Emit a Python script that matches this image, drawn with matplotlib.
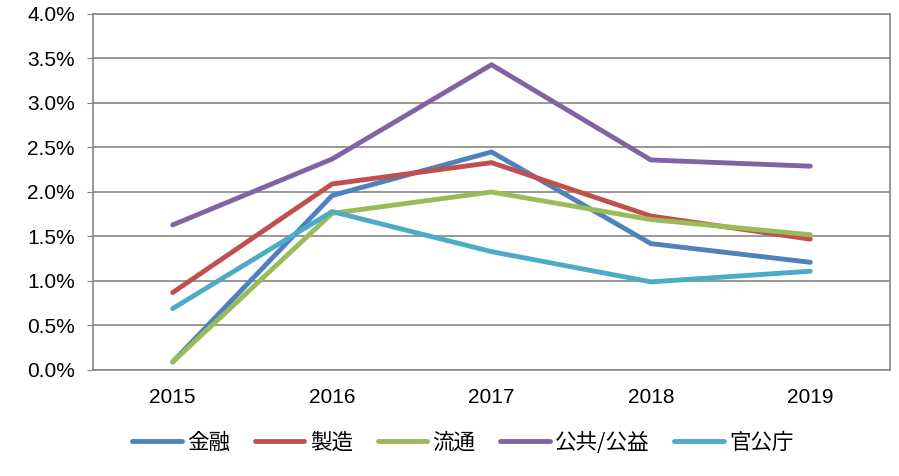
import matplotlib.pyplot as plt
from matplotlib.ticker import FuncFormatter

plt.rcParams['font.family'] = ['Liberation Sans', 'Noto Sans CJK JP', 'DejaVu Sans']

years = ['2015', '2016', '2017', '2018', '2019']
kinyu = [0.09, 1.96, 2.45, 1.42, 1.21]
seizo = [0.87, 2.09, 2.33, 1.73, 1.47]
ryutsu = [0.09, 1.76, 2.00, 1.69, 1.52]
kokyo = [1.63, 2.37, 3.43, 2.36, 2.29]
kancho = [0.69, 1.78, 1.33, 0.99, 1.11]

series = [
    ('金融', kinyu, '#4F81BD'),
    ('製造', seizo, '#C0504D'),
    ('流通', ryutsu, '#9BBB59'),
    ('公共/公益', kokyo, '#8064A2'),
    ('官公庁', kancho, '#4BACC6'),
]

fig = plt.figure(figsize=(8.99, 4.76), dpi=100)
ax = fig.add_axes([0.1034, 0.2227, 0.8866, 0.7479])

x = range(len(years))
for name, vals, color in series:
    ax.plot(x, vals, color=color, lw=3.5, label=name, solid_capstyle='round',
            solid_joinstyle='round')

ax.set_xlim(-0.5, len(years) - 0.5)
ax.set_ylim(0, 4.0)
ax.set_yticks([i * 0.5 for i in range(9)])
ax.yaxis.set_major_formatter(FuncFormatter(lambda v, p: f'{v:.1f}%'))
ax.set_xticks(list(x))
ax.set_xticklabels(years)
ax.tick_params(axis='y', length=4, color='#868686', labelsize=15, pad=9)
ax.tick_params(axis='x', length=0, labelsize=15, pad=13)
ax.grid(axis='y', color='#868686', lw=1.2)
ax.set_axisbelow(True)
for s in ax.spines.values():
    s.set_color('#868686')
    s.set_linewidth(1.2)

fig.legend(loc='center', bbox_to_anchor=(0.515, 0.07), ncol=5, frameon=False,
           handlelength=2.3, handletextpad=0.25, columnspacing=1.15,
           prop={'family': ['Noto Sans CJK JP'], 'size': 15.5})

fig.savefig('out.png', dpi=100)
